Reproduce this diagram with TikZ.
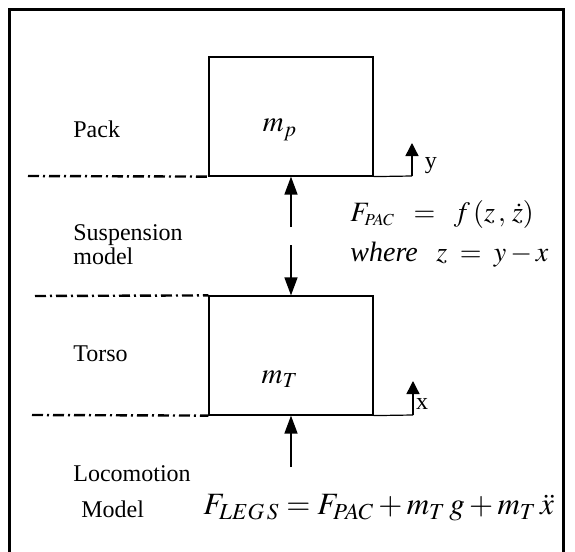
\documentclass[tikz,border=0pt]{standalone}
\usepackage{mathptmx}
\usepackage{fontspec}
\setmainfont{Liberation Serif}
\usetikzlibrary{positioning,calc,arrows.meta}

\tikzset{
  mass/.style={draw, line width=0.6pt, minimum width=82pt, minimum height=59.5pt, inner sep=0pt},
  level/.style={line width=1.2pt, dash pattern=on 5.5pt off 2pt on 1pt off 2pt},
  lbl/.style={font=\fontsize{12}{10.6}\selectfont, align=left, inner sep=0pt, anchor=west},
  eqn/.style={inner sep=0pt, anchor=west},
  force/.style={line width=0.7pt, -{Triangle[width=6.5pt,length=9pt]}},
  axis/.style={line width=0.7pt, -{Triangle[width=6.5pt,length=6.5pt]}},
}

\begin{document}
\begin{tikzpicture}[x=0.5pt, y=-0.5pt]
  \useasboundingbox (0,0) rectangle (575,552);
  % Frame, open at the bottom
  \draw[line width=1.5pt] (10,560) -- (10,9) -- (564,9) -- (564,560);

  % Pack and torso masses
  \node[mass] (pack) at (291,116.5) {};
  \node[mass] (torso) at (291,355.5) {};
  \node[font=\fontsize{14.5}{16}\selectfont] (mp) at (280,130) {$m_p$};
  \node[font=\fontsize{14.5}{16}\selectfont] (mT) at (280,379) {$m_T$};

  % Level lines
  \coordinate (lvlA) at (28,176);
  \coordinate (lvlB) at (35,296);
  \coordinate (lvlC) at (32,415);
  \draw[level] (lvlA) -- (pack.south west);
  \draw[level] (lvlB) -- (torso.north west);
  \draw[level] (lvlC) -- (torso.south west);

  % y and x displacements
  \coordinate (yax) at (412,176);
  \coordinate (xax) at (413,415);
  \draw[line width=0.6pt] (pack.south east) -- (yax);
  \draw[axis] (yax) -- ++(0,-33);
  \node[font=\fontsize{12}{14}\selectfont, inner sep=0pt] (ylbl) at (431,166) {y};
  \draw[line width=0.6pt] (torso.south east) -- (xax);
  \draw[axis] (xax) -- ++(0,-34);
  \node[font=\fontsize{12}{14}\selectfont, inner sep=0pt] (xlbl) at (422,404) {x};

  % Suspension force
  \coordinate (gapT) at (291,227);
  \coordinate (gapB) at (291,245);
  \draw[force] (gapT) -- (pack.south);
  \draw[force] (gapB) -- (torso.north);

  % Leg force
  \coordinate (legs) at (291,467);
  \draw[force] (legs) -- (torso.south);

  % Labels
  \node[lbl] (packlbl) at (73,129) {Pack};
  \node[lbl] (susplbl) at (73,245) {Suspension\\model};
  \node[lbl] (torsolbl) at (73,354) {Torso};
  \node[lbl] (locolbl) at (73,474) {Locomotion};
  \node[lbl] (modellbl) at (81,509) {Model};

  % Equations
  \node[eqn, font=\fontsize{14}{16}\selectfont] (fpac) at (350,214)
    {$F_{\scriptscriptstyle PAC}\;\;=\;\;f\,(z\,,\,\dot z)$};
  \node[eqn, font=\fontsize{14}{16}\selectfont] (where) at (350,255)
    {$\textit{where}\;\;\;z\;=\;y-x$};
  \node[eqn, font=\fontsize{15.5}{18}\selectfont] (flegs) at (203,508)
    {$F_{\scriptstyle LEG\,S}=F_{\scriptstyle PAC}+m_{\scriptstyle T}\,g+m_{\scriptstyle T}\,\ddot x$};
\end{tikzpicture}
\end{document}
